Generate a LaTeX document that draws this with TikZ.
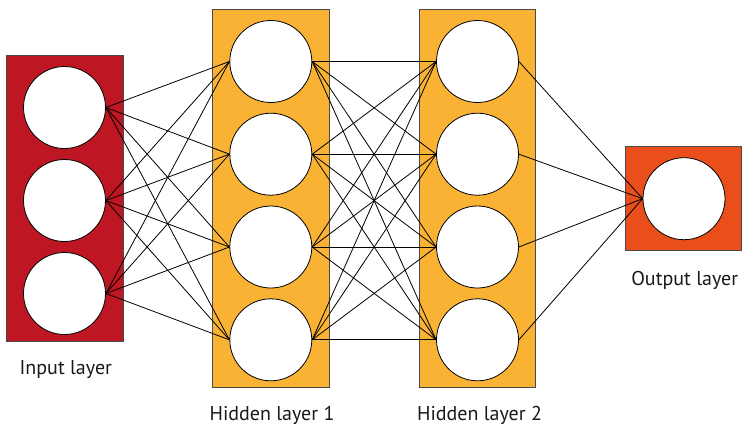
\documentclass[tikz,border=0pt]{standalone}
\usepackage{fontspec}
\setmainfont{PT Sans}
\definecolor{inred}{HTML}{BE1622}
\definecolor{hidorange}{HTML}{F9B233}
\definecolor{outorange}{HTML}{E94E1B}
\definecolor{rimgray}{HTML}{4A4A4A}
\begin{document}
\begin{tikzpicture}[x=1pt,y=-1pt,
  layerbox/.style={draw=rimgray,line width=0.9pt},
  neuron/.style={circle,draw=black,fill=white,line width=0.8pt,minimum size=82pt,inner sep=0pt},
  link/.style={draw=black,line width=0.8pt},
  caption/.style={anchor=base,font=\fontsize{20}{24}\selectfont,text=black!90,inner sep=0pt}]
\useasboundingbox (0,0) rectangle (742,426);
% layer boxes
\path[layerbox,fill=inred] (6.5,55.5) rectangle (123,341.5);
\path[layerbox,fill=hidorange] (212.5,9.5) rectangle (329,387.5);
\path[layerbox,fill=hidorange] (419,9.5) rectangle (535,387.5);
\path[layerbox,fill=outorange] (625.5,146.7) rectangle (741.5,250.7);
% neurons
\foreach \i/\y in {1/107.5,2/200.5,3/293.5}
  \node[neuron] (in\i) at (64.5,\y) {};
\foreach \i/\y in {1/61.5,2/154.2,3/247,4/339.8}{
  \node[neuron] (ha\i) at (270.8,\y) {};
  \node[neuron] (hb\i) at (477.5,\y) {};
}
\node[neuron] (out) at (684,198.7) {};
% links
\foreach \i in {1,2,3}
  \foreach \j in {1,2,3,4}
    \draw[link] (in\i.east) -- (ha\j.west);
\foreach \i in {1,2,3,4}
  \foreach \j in {1,2,3,4}
    \draw[link] (ha\i.east) -- (hb\j.west);
\foreach \i in {1,2,3,4}
  \draw[link] (hb\i.east) -- (out.west);
% captions
\node[caption] (capin) at (65.8,374.3) {Input layer};
\node[caption] (capha) at (272,420.5) {Hidden layer 1};
\node[caption] (caphb) at (479.5,420.5) {Hidden layer 2};
\node[caption] (capout) at (684.7,285) {Output layer};
\end{tikzpicture}
\end{document}
